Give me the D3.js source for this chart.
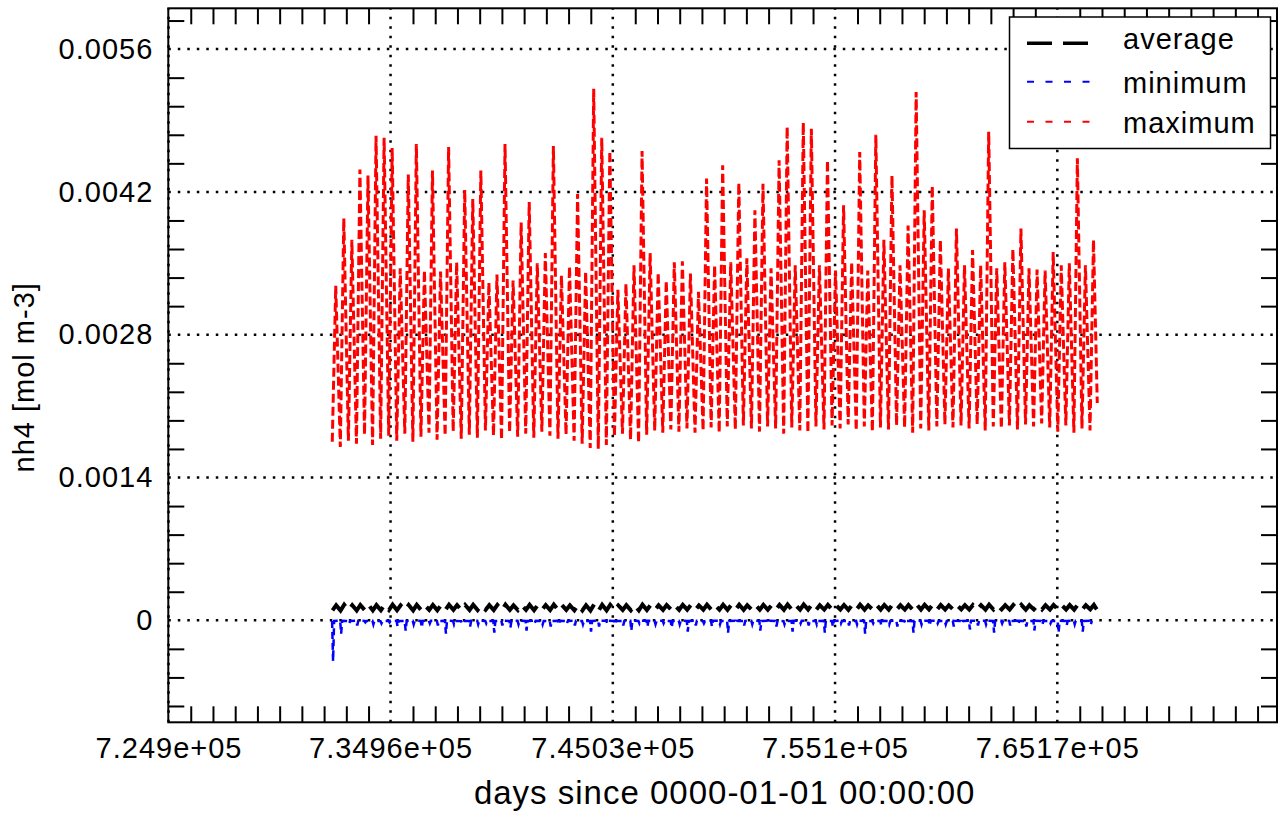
<!DOCTYPE html>
<html><head><meta charset="utf-8">
<script src="https://cdn.jsdelivr.net/npm/d3@7"></script>
<style>
body{margin:0;background:#fff}
svg{display:block}
text{font-family:"Liberation Sans",Arial,Helvetica,sans-serif;fill:#000}
</style></head>
<body><svg id="c" width="1280" height="815"></svg>
<script>
// ---------------- data ----------------
const years = [2005,2006,2007,2008,2009,2010,2011,2012,2013,2014,2015,2016,2017,2018,2019,2020,2021,2022,2023,2024,
2025,2026,2027,2028,2029,2030,2031,2032,2033,2034,2035,2036,2037,2038,2039,2040,2041,2042,2043,2044,
2045,2046,2047,2048,2049,2050,2051,2052,2053,2054,2055,2056,2057,2058,2059,2060,2061,2062,2063,2064,
2065,2066,2067,2068,2069,2070,2071,2072,2073,2074,2075,2076,2077,2078,2079,2080,2081,2082,2083,2084,
2085,2086,2087,2088,2089,2090,2091,2092,2093,2094,2095,2096,2097,2098,2099];

const maxHigh = [0.00328,0.00394,0.00373,0.00442,0.00436,0.00475,0.00473,0.00463,0.00345,0.00437,
0.00467,0.00343,0.00441,0.00342,0.00464,0.00351,0.00422,0.00413,0.00441,0.00331,
0.00339,0.00467,0.00333,0.00390,0.00410,0.00350,0.00360,0.00465,0.00338,0.00347,
0.00418,0.00342,0.00521,0.00473,0.00460,0.00324,0.00330,0.00348,0.00460,0.00360,
0.00341,0.00333,0.00351,0.00352,0.00340,0.00322,0.00433,0.00348,0.00446,0.00351,
0.00429,0.00355,0.00402,0.00428,0.00345,0.00451,0.00484,0.00348,0.00488,0.00482,
0.00348,0.00451,0.00343,0.00407,0.00351,0.00459,0.00343,0.00476,0.00373,0.00436,
0.00348,0.00387,0.00518,0.00402,0.00426,0.00373,0.00345,0.00384,0.00348,0.00363,
0.00348,0.00479,0.00345,0.00351,0.00364,0.00384,0.00345,0.00344,0.00343,0.00361,
0.00348,0.00350,0.00453,0.00348,0.00373];

const maxLow = [0.00175,0.00170,0.00176,0.00173,0.00182,0.00172,0.00178,0.00181,0.00176,0.00183,
0.00175,0.00180,0.00184,0.00177,0.00181,0.00185,0.00178,0.00182,0.00179,0.00186,
0.00181,0.00177,0.00184,0.00180,0.00183,0.00179,0.00185,0.00181,0.00178,0.00182,
0.00176,0.00173,0.00169,0.00168,0.00172,0.00180,0.00183,0.00177,0.00174,0.00182,
0.00186,0.00184,0.00187,0.00185,0.00188,0.00184,0.00186,0.00189,0.00184,0.00190,
0.00187,0.00191,0.00188,0.00185,0.00190,0.00188,0.00183,0.00189,0.00186,0.00184,
0.00190,0.00187,0.00191,0.00188,0.00192,0.00186,0.00190,0.00185,0.00189,0.00187,
0.00191,0.00189,0.00184,0.00188,0.00186,0.00190,0.00192,0.00189,0.00191,0.00188,
0.00192,0.00186,0.00190,0.00188,0.00191,0.00187,0.00192,0.00190,0.00193,0.00189,
0.00185,0.00191,0.00184,0.00188,0.00186];
const maxEnd = 0.00213;

const avgHigh = [0.000148,0.000152,0.000147,0.000150,0.000153,0.000149,0.000151,0.000154,0.000146,0.000150,
0.000152,0.000147,0.000151,0.000148,0.000153,0.000149,0.000150,0.000152,0.000147,0.000149,
0.000151,0.000153,0.000146,0.000150,0.000152,0.000148,0.000149,0.000154,0.000150,0.000147,
0.000151,0.000148,0.000156,0.000153,0.000152,0.000146,0.000148,0.000150,0.000153,0.000149,
0.000147,0.000150,0.000148,0.000151,0.000149,0.000146,0.000152,0.000148,0.000153,0.000149,
0.000152,0.000148,0.000150,0.000151,0.000147,0.000152,0.000154,0.000148,0.000155,0.000153,
0.000147,0.000152,0.000148,0.000150,0.000149,0.000153,0.000147,0.000154,0.000150,0.000152,
0.000148,0.000150,0.000156,0.000151,0.000152,0.000149,0.000147,0.000150,0.000148,0.000149,
0.000148,0.000154,0.000147,0.000149,0.000150,0.000151,0.000148,0.000147,0.000148,0.000150,
0.000149,0.000149,0.000153,0.000148,0.000150];

const avgLow = [0.000098,0.000095,0.000099,0.000096,0.000100,0.000097,0.000099,0.000101,0.000098,0.000100,
0.000097,0.000100,0.000102,0.000098,0.000101,0.000103,0.000099,0.000101,0.000100,0.000103,
0.000101,0.000099,0.000102,0.000100,0.000102,0.000099,0.000103,0.000101,0.000100,0.000102,
0.000098,0.000097,0.000095,0.000094,0.000097,0.000100,0.000102,0.000099,0.000098,0.000101,
0.000103,0.000102,0.000104,0.000103,0.000104,0.000102,0.000104,0.000103,0.000105,0.000102,
0.000104,0.000103,0.000105,0.000104,0.000103,0.000105,0.000104,0.000102,0.000104,0.000105,
0.000103,0.000105,0.000104,0.000106,0.000103,0.000105,0.000104,0.000106,0.000105,0.000104,
0.000106,0.000105,0.000103,0.000105,0.000106,0.000104,0.000106,0.000105,0.000107,0.000105,
0.000106,0.000104,0.000106,0.000107,0.000105,0.000106,0.000104,0.000107,0.000106,0.000105,
0.000107,0.000106,0.000104,0.000106,0.000107];

const minHigh = [-0.000006,-0.000005,-0.000007,-0.000004,-0.000006,-0.000005,-0.000008,-0.000004,-0.000006,-0.000007,
-0.000005,-0.000006,-0.000004,-0.000007,-0.000005,-0.000006,-0.000008,-0.000005,-0.000004,-0.000006,
-0.000007,-0.000005,-0.000006,-0.000004,-0.000007,-0.000005,-0.000006,-0.000008,-0.000004,-0.000006,
-0.000005,-0.000007,-0.000006,-0.000005,-0.000004,-0.000006,-0.000007,-0.000005,-0.000006,-0.000004,
-0.000006,-0.000005,-0.000007,-0.000004,-0.000006,-0.000005,-0.000008,-0.000004,-0.000006,-0.000007,
-0.000005,-0.000006,-0.000004,-0.000007,-0.000005,-0.000006,-0.000008,-0.000005,-0.000004,-0.000006,
-0.000007,-0.000005,-0.000006,-0.000004,-0.000007,-0.000005,-0.000006,-0.000008,-0.000004,-0.000006,
-0.000005,-0.000007,-0.000006,-0.000005,-0.000004,-0.000006,-0.000007,-0.000005,-0.000006,-0.000004,
-0.000006,-0.000005,-0.000007,-0.000004,-0.000006,-0.000005,-0.000008,-0.000004,-0.000006,-0.000007,
-0.000005,-0.000006,-0.000004,-0.000007,-0.000005];

const minDip = [-0.00040,-0.00013,-0.00003,-0.00005,-0.00002,-0.00004,-0.00003,-0.00002,-0.00006,-0.00010,
-0.00004,-0.00007,-0.00003,-0.00005,-0.00013,-0.00004,-0.00003,-0.00006,-0.00004,-0.00003,
-0.00012,-0.00005,-0.00007,-0.00004,-0.00010,-0.00003,-0.00004,-0.00006,-0.00004,-0.00003,
-0.00005,-0.00004,-0.00011,-0.00006,-0.00003,-0.00004,-0.00005,-0.00010,-0.00003,-0.00006,
-0.00004,-0.00003,-0.00007,-0.00004,-0.00011,-0.00005,-0.00003,-0.00006,-0.00004,-0.00012,
-0.00003,-0.00005,-0.00004,-0.00010,-0.00003,-0.00006,-0.00004,-0.00011,-0.00003,-0.00005,
-0.00004,-0.00012,-0.00006,-0.00003,-0.00005,-0.00004,-0.00013,-0.00003,-0.00005,-0.00004,
-0.00006,-0.00003,-0.00012,-0.00004,-0.00005,-0.00003,-0.00004,-0.00006,-0.00003,-0.00009,
-0.00005,-0.00004,-0.00012,-0.00003,-0.00005,-0.00004,-0.00006,-0.00010,-0.00004,-0.00003,
-0.00012,-0.00005,-0.00004,-0.00011,-0.00004];

const xTickValues = [724900,734960,745030,755100,765170];
const xTickLabels = ["7.249e+05","7.3496e+05","7.4503e+05","7.551e+05","7.6517e+05"];
const yTickValues = [0,0.0014,0.0028,0.0042,0.0056];
const yTickLabels = ["0","0.0014","0.0028","0.0042","0.0056"];
const seriesNames = ["average","minimum","maximum"];
const xTitle = "days since 0000-01-01 00:00:00";
const yTitle = "nh4 [mol m-3]";

// ---------------- layout ----------------
const L = 168.3, R = 1277, T = 8.3, B = 722.3;
const FONT = 29;
const svg = d3.select("#c");
const x = d3.scaleLinear().domain([724890, 775124]).range([L, R]);
const y = d3.scaleLinear().domain([-0.001, 0.006]).range([B, T]);
// calendar position: days since 0000-01-01 (2005-01-01 = 732312)
const day = (yr, frac) => 732312 + (yr - 2005 + frac) * 365.2425;

// series points
const maxPts = [];
years.forEach((yr, i) => { maxPts.push([day(yr, 0.02), maxLow[i]]); maxPts.push([day(yr, 0.45), maxHigh[i]]); });
maxPts.push([day(2099, 0.92), maxEnd]);
const avgPts = [];
years.forEach((yr, i) => { avgPts.push([day(yr, 0.05), avgLow[i]]); avgPts.push([day(yr, 0.5), avgHigh[i]]); });
avgPts.push([day(2099, 0.85), avgLow[94]]);
const minPts = [];
years.forEach((yr, i) => {
  minPts.push([day(yr, 0.0), minHigh[i]]);
  minPts.push([day(yr, 0.12), minDip[i]]);
  minPts.push([day(yr, 0.25), minHigh[i]]);
});

// minor tick values
const xMinor = d3.range(0, 51).map(k => xTickValues[0] + k * 1007).filter((v, k) => k % 10 !== 0 && v <= 775124);
const yMinor = d3.range(-3, 22).filter(k => k % 5 !== 0).map(k => k * 0.00028);

// grid
const grid = svg.append("g").attr("stroke", "#000").attr("stroke-width", 2.5).attr("stroke-dasharray", "2.5,7");
grid.selectAll(".gx").data(xTickValues).join("line")
  .attr("x1", d => x(d)).attr("x2", d => x(d)).attr("y1", B).attr("y2", T);
grid.selectAll(".gy").data(yTickValues).join("line")
  .attr("x1", L).attr("x2", R).attr("y1", d => y(d)).attr("y2", d => y(d));

// data lines
const line = d3.line().x(d => x(d[0])).y(d => y(d[1]));
svg.append("path").attr("d", line(maxPts)).attr("fill", "none").attr("stroke", "#ff0000")
  .attr("stroke-width", 3).attr("stroke-dasharray", "9,4");
svg.append("path").attr("d", line(minPts)).attr("fill", "none").attr("stroke", "#0000ff")
  .attr("stroke-width", 2.5).attr("stroke-dasharray", "7,4");
svg.append("path").attr("d", line(avgPts)).attr("fill", "none").attr("stroke", "#000")
  .attr("stroke-width", 4).attr("stroke-dasharray", "22,9");

// minor tick axes (inward)
function styleTicks(g) { g.select(".domain").remove(); g.selectAll(".tick line").attr("stroke-width", 2); g.selectAll(".tick text").remove(); }
svg.append("g").attr("transform", `translate(0,${B})`).call(d3.axisBottom(x).tickValues(xMinor).tickSize(-16)).call(styleTicks);
svg.append("g").attr("transform", `translate(0,${T})`).call(d3.axisTop(x).tickValues(xMinor).tickSize(-16)).call(styleTicks);
svg.append("g").attr("transform", `translate(${L},0)`).call(d3.axisLeft(y).tickValues(yMinor).tickSize(-16)).call(styleTicks);
svg.append("g").attr("transform", `translate(${R},0)`).call(d3.axisRight(y).tickValues(yMinor).tickSize(-16)).call(styleTicks);

// labels
function styleLabels(g) {
  g.select(".domain").remove();
  g.selectAll(".tick line").remove();
  g.selectAll(".tick text").attr("font-size", FONT).attr("letter-spacing", 1)
    .attr("font-family", "Liberation Sans, Arial, sans-serif").attr("fill", "#000");
}
svg.append("g").attr("transform", `translate(0,${B})`)
  .call(d3.axisBottom(x).tickValues(xTickValues).tickSize(0).tickPadding(15).tickFormat((d, i) => xTickLabels[i]))
  .call(styleLabels);
svg.append("g").attr("transform", `translate(${L},0)`)
  .call(d3.axisLeft(y).tickValues(yTickValues).tickSize(0).tickPadding(15).tickFormat((d, i) => yTickLabels[i]))
  .call(styleLabels);

// frame
svg.append("rect").attr("x", L).attr("y", T).attr("width", R - L).attr("height", B - T)
  .attr("fill", "none").attr("stroke", "#000").attr("stroke-width", 2);

// titles
svg.append("text").attr("x", (L + R) / 2 + 2).attr("y", 804).attr("text-anchor", "middle")
  .attr("font-size", 33).attr("letter-spacing", 1).text(xTitle);
svg.append("text").attr("transform", `translate(34,${(T + B) / 2 + 12}) rotate(-90)`).attr("text-anchor", "middle")
  .attr("font-size", FONT).attr("letter-spacing", 1).text(yTitle);

// legend
const lg = svg.append("g");
lg.append("rect").attr("x", 1009.5).attr("y", 17).attr("width", 261).attr("height", 131.5)
  .attr("fill", "#fff").attr("stroke", "#000").attr("stroke-width", 1.5);
const legendStyle = [
  {color: "#000", w: 3.5, dash: "25,11", ly: 43.3, ty: 49.3},
  {color: "#0000ff", w: 2, dash: "7,11.5", ly: 81.7, ty: 93},
  {color: "#ff0000", w: 2, dash: "7,11.5", ly: 121.7, ty: 132.7}
];
seriesNames.forEach((name, i) => {
  const s = legendStyle[i];
  lg.append("line").attr("x1", 1027).attr("x2", 1090).attr("y1", s.ly).attr("y2", s.ly)
    .attr("stroke", s.color).attr("stroke-width", s.w).attr("stroke-dasharray", s.dash);
  lg.append("text").attr("x", 1123).attr("y", s.ty).attr("font-size", FONT).attr("letter-spacing", 1).text(name);
});
</script>
</body></html>
